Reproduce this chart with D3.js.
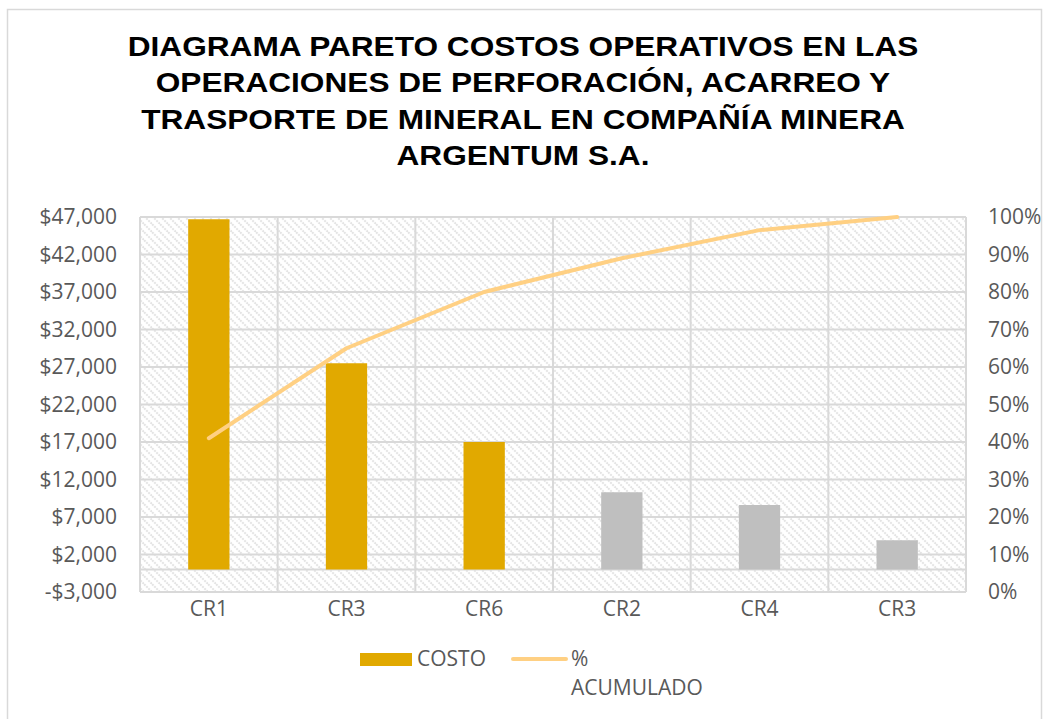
<!DOCTYPE html>
<html>
<head>
<meta charset="utf-8">
<script src="https://cdn.jsdelivr.net/npm/d3@7"></script>
<style>
  body { margin: 0; background: #fff; }
  text { font-family: "Open Sans", "Noto Sans", sans-serif; }
</style>
</head>
<body>
<div id="chart"></div>
<script>
const WIDTH = 1046;
const HEIGHT = 719;
const CATEGORIES = ["CR1", "CR3", "CR6", "CR2", "CR4", "CR3 "];
const COSTS = [46700, 27500, 17000, 10300, 8600, 3900];
const CUMULATIVE = [0.41, 0.65, 0.80, 0.89, 0.965, 1.0];
const BAR_COLORS = ["#E1A900", "#E1A900", "#E1A900", "#BFBFBF", "#BFBFBF", "#BFBFBF"];
const LEFT_TICKS = [-3000, 2000, 7000, 12000, 17000, 22000, 27000, 32000, 37000, 42000, 47000];
const RIGHT_TICKS = [0, 0.1, 0.2, 0.3, 0.4, 0.5, 0.6, 0.7, 0.8, 0.9, 1.0];
const TITLE_LINES = [
  "DIAGRAMA PARETO COSTOS OPERATIVOS EN LAS",
  "OPERACIONES DE PERFORACIÓN, ACARREO Y",
  "TRASPORTE DE MINERAL EN COMPAÑÍA MINERA",
  "ARGENTUM S.A."
];

const PLOT_LEFT = 140;
const PLOT_RIGHT = 966;
const PLOT_TOP = 217;
const PLOT_BOTTOM = 592;
const GRID_COLOR = "#D9D9D9";
const LINE_COLOR = "#FFD083";
const TEXT_COLOR = "#595959";
const TITLE_STRETCH = 1.13;

var svg = d3.select("#chart")
  .append("svg")
  .attr("width", WIDTH)
  .attr("height", HEIGHT);

// hatch fill like the excel plot area
var pattern = svg.append("defs")
  .append("pattern")
  .attr("id", "hatch")
  .attr("patternUnits", "userSpaceOnUse")
  .attr("width", 8)
  .attr("height", 8);
pattern.append("rect")
  .attr("width", 8)
  .attr("height", 8)
  .attr("fill", "#fff");
pattern.append("path")
  .attr("d", "M-2,-2L10,10M-2,6L2,10M6,-2L10,2")
  .attr("stroke", "#E4E4E4")
  .attr("stroke-width", 2)
  .attr("stroke-dasharray", "2,1");

svg.append("rect")
  .attr("x", 7.5)
  .attr("y", 9.5)
  .attr("width", 1034)
  .attr("height", 720)
  .attr("fill", "#fff")
  .attr("stroke", GRID_COLOR)
  .attr("stroke-width", 1.5);

svg.append("g")
  .attr("transform", `translate(${WIDTH / 2},0) scale(${TITLE_STRETCH},1)`)
  .selectAll("text")
  .data(TITLE_LINES)
  .enter()
  .append("text")
  .attr("x", 0)
  .attr("y", (d, i) => 56 + i * 36.5)
  .attr("text-anchor", "middle")
  .style("font-family", "'Liberation Sans', Arial, sans-serif")
  .style("font-weight", "bold")
  .style("font-size", "28px")
  .attr("fill", "#000")
  .text(d => d);

var xScale = d3.scaleBand()
  .domain(CATEGORIES)
  .range([PLOT_LEFT, PLOT_RIGHT])
  .paddingInner(0)
  .paddingOuter(0);

var yScale = d3.scaleLinear()
  .domain([-3000, 47000])
  .range([PLOT_BOTTOM, PLOT_TOP]);

var y2Scale = d3.scaleLinear()
  .domain([0, 1])
  .range([PLOT_BOTTOM, PLOT_TOP]);

svg.append("rect")
  .attr("x", PLOT_LEFT)
  .attr("y", PLOT_TOP)
  .attr("width", PLOT_RIGHT - PLOT_LEFT)
  .attr("height", PLOT_BOTTOM - PLOT_TOP)
  .attr("fill", "url(#hatch)");

// grid
var grid = svg.append("g")
  .attr("stroke", GRID_COLOR)
  .attr("stroke-width", 2);
grid.selectAll("line.h")
  .data(LEFT_TICKS.concat([0]))
  .enter()
  .append("line")
  .attr("x1", PLOT_LEFT)
  .attr("x2", PLOT_RIGHT)
  .attr("y1", d => yScale(d))
  .attr("y2", d => yScale(d));
grid.selectAll("line.v")
  .data(CATEGORIES.map(c => xScale(c)).concat([PLOT_RIGHT]))
  .enter()
  .append("line")
  .attr("x1", d => d)
  .attr("x2", d => d)
  .attr("y1", PLOT_TOP)
  .attr("y2", PLOT_BOTTOM);

// axes
var yAxisDef = d3.axisLeft(yScale)
  .tickValues(LEFT_TICKS)
  .tickSize(0)
  .tickPadding(23)
  .tickFormat(d => (d < 0 ? "-$" : "$") + d3.format(",")(Math.abs(d)));

var y2AxisDef = d3.axisRight(y2Scale)
  .tickValues(RIGHT_TICKS)
  .tickSize(0)
  .tickPadding(22)
  .tickFormat(d3.format(".0%"));

var xAxisDef = d3.axisBottom(xScale)
  .tickSize(0)
  .tickPadding(9)
  .tickFormat(d => d.trim());

function styleAxis(g) {
  g.select(".domain").remove();
  g.selectAll("text")
    .attr("fill", TEXT_COLOR)
    .style("font-family", "'Open Sans', sans-serif")
    .style("font-size", "21px");
}

svg.append("g")
  .attr("transform", `translate(${PLOT_LEFT}, 0)`)
  .call(yAxisDef)
  .call(styleAxis);

svg.append("g")
  .attr("transform", `translate(${PLOT_RIGHT}, 0)`)
  .call(y2AxisDef)
  .call(styleAxis);

svg.append("g")
  .attr("transform", `translate(0, ${PLOT_BOTTOM})`)
  .call(xAxisDef)
  .call(styleAxis);

// bars
var barWidth = xScale.bandwidth() * 0.3;
svg.append("g")
  .selectAll("rect")
  .data(COSTS)
  .enter()
  .append("rect")
  .attr("x", (d, i) => xScale(CATEGORIES[i]) + (xScale.bandwidth() - barWidth) / 2)
  .attr("y", d => yScale(d))
  .attr("width", barWidth)
  .attr("height", d => yScale(0) - yScale(d))
  .attr("fill", (d, i) => BAR_COLORS[i]);

// cumulative line
var line = d3.line()
  .x((d, i) => xScale(CATEGORIES[i]) + xScale.bandwidth() / 2)
  .y(d => y2Scale(d));

svg.append("path")
  .datum(CUMULATIVE)
  .attr("d", line)
  .attr("fill", "none")
  .attr("stroke", LINE_COLOR)
  .attr("stroke-width", 4)
  .attr("stroke-linecap", "round")
  .attr("stroke-linejoin", "round");

// legend
var legend = svg.append("g")
  .style("font-family", "'Open Sans', sans-serif")
  .style("font-size", "21px")
  .attr("fill", TEXT_COLOR);
legend.append("rect")
  .attr("x", 360)
  .attr("y", 653)
  .attr("width", 52)
  .attr("height", 13)
  .attr("fill", BAR_COLORS[0]);
legend.append("text")
  .attr("x", 417)
  .attr("y", 666)
  .text("COSTO");
legend.append("line")
  .attr("x1", 513)
  .attr("x2", 566)
  .attr("y1", 659)
  .attr("y2", 659)
  .attr("stroke", LINE_COLOR)
  .attr("stroke-width", 4)
  .attr("stroke-linecap", "round");
legend.append("text")
  .attr("x", 571)
  .attr("y", 666)
  .text("%");
legend.append("text")
  .attr("x", 571)
  .attr("y", 695)
  .text("ACUMULADO");
</script>
</body>
</html>
